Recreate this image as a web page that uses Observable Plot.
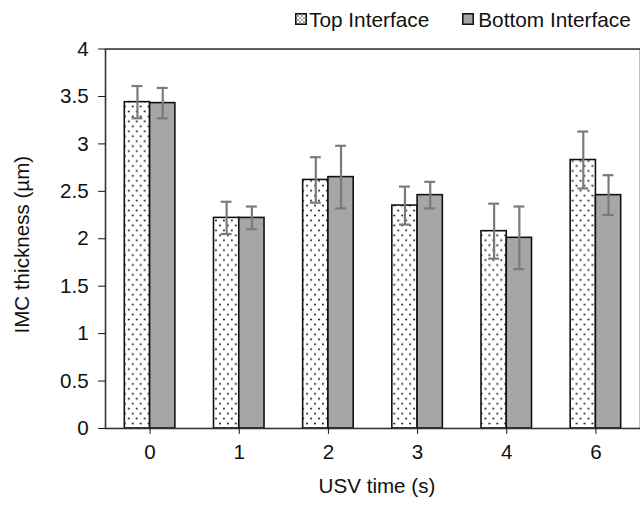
<!DOCTYPE html>
<html>
<head>
<meta charset="utf-8">
<script src="https://cdn.jsdelivr.net/npm/d3@7"></script>
<script src="https://cdn.jsdelivr.net/npm/@observablehq/plot@0.6"></script>
<style>
html, body { margin: 0; padding: 0; background: #fff; overflow: hidden; width: 640px; height: 506px; }
#wrap { position: relative; width: 640px; height: 506px; font-family: "Liberation Sans", Arial, sans-serif; }
#legend { position: absolute; top: 9px; left: 295px; font-size: 20.8px; line-height: 21px; color: #111; display: flex; align-items: flex-start; white-space: nowrap; }
#legend .sw { display: block; margin-top: 4px; margin-right: 2px; }
#legend .gap { width: 33px; }
#chart { position: absolute; top: 0; left: 0; }
</style>
</head>
<body>
<div id="wrap">
  <div id="chart"></div>
  <div id="legend">
    <svg class="sw" width="12" height="12"><defs><pattern id="dotsLegend" patternUnits="userSpaceOnUse" width="4" height="4"><rect width="4" height="4" fill="#fff"/><circle cx="1" cy="1" r="0.7" fill="#000"/><circle cx="3" cy="3" r="0.7" fill="#000"/></pattern></defs><rect x="0.75" y="0.75" width="10.5" height="10.5" fill="url(#dotsLegend)" stroke="#111" stroke-width="1.5"/></svg>
    <span id="lg0"></span>
    <span class="gap"></span>
    <svg class="sw" width="12" height="12" style="margin-right:4px"><rect x="0.75" y="0.75" width="10.5" height="10.5" fill="#a6a6a6" stroke="#111" stroke-width="1.5"/></svg>
    <span id="lg1"></span>
  </div>
</div>
<script>
// ---- data ----
const categories = ["0", "1", "2", "3", "4", "6"];
const seriesNames = ["Top Interface", "Bottom Interface"];
const topValues = [3.44, 2.22, 2.62, 2.35, 2.08, 2.83];
const topErrors = [0.17, 0.17, 0.24, 0.20, 0.29, 0.30];
const bottomValues = [3.43, 2.22, 2.65, 2.46, 2.01, 2.46];
const bottomErrors = [0.16, 0.12, 0.33, 0.14, 0.33, 0.21];
const yTicks = [0, 0.5, 1, 1.5, 2, 2.5, 3, 3.5, 4];
const xLabel = "USV time (s)";
const yLabel = "IMC thickness (µm)";

document.getElementById("lg0").textContent = seriesNames[0];
document.getElementById("lg1").textContent = seriesNames[1];

const topRows = categories.map((c, i) => ({cat: c, series: seriesNames[0], value: topValues[i], err: topErrors[i]}));
const botRows = categories.map((c, i) => ({cat: c, series: seriesNames[1], value: bottomValues[i], err: bottomErrors[i]}));

const errColor = "#7a7a7a";
const font = "'Liberation Sans', Arial, sans-serif";
const chart = Plot.plot({
  width: 646,
  height: 506,
  marginLeft: 106,
  marginRight: 0,
  marginTop: 49,
  marginBottom: 74,
  style: {fontFamily: font, fontSize: "20.8px", color: "#111", background: "#fff"},
  x: {domain: categories, padding: 0},
  y: {domain: [0, 4]},
  marks: [
    Plot.barY(topRows, {x: "cat", y: "value", fill: "url(#dots)", stroke: "#111", strokeWidth: 1.6, insetLeft: 19.5, insetRight: 45}),
    Plot.barY(botRows, {x: "cat", y: "value", fill: "#a6a6a6", stroke: "#111", strokeWidth: 1.6, insetLeft: 45, insetRight: 19.5}),
    Plot.ruleX(topRows, {x: "cat", y1: d => d.value - d.err, y2: d => d.value + d.err, dx: -12.75, stroke: errColor, strokeWidth: 2.2}),
    Plot.tickY(topRows, {x: "cat", y: d => d.value + d.err, insetLeft: 26.75, insetRight: 52.25, stroke: errColor, strokeWidth: 2.2}),
    Plot.tickY(topRows, {x: "cat", y: d => d.value - d.err, insetLeft: 26.75, insetRight: 52.25, stroke: errColor, strokeWidth: 2.2}),
    Plot.ruleX(botRows, {x: "cat", y1: d => d.value - d.err, y2: d => d.value + d.err, dx: 12.75, stroke: errColor, strokeWidth: 2.2}),
    Plot.tickY(botRows, {x: "cat", y: d => d.value + d.err, insetLeft: 52.25, insetRight: 26.75, stroke: errColor, strokeWidth: 2.2}),
    Plot.tickY(botRows, {x: "cat", y: d => d.value - d.err, insetLeft: 52.25, insetRight: 26.75, stroke: errColor, strokeWidth: 2.2}),
    Plot.frame({stroke: "#333", strokeWidth: 1.6}),
    Plot.axisY({ticks: yTicks, tickFormat: d => String(d), tickSize: 7, tickPadding: 10, label: null}),
    Plot.axisX({tickSize: 6, tickPadding: 10, label: null}),
    Plot.text([yLabel], {text: d => d, frameAnchor: "left", rotate: -90, dx: -84, dy: 6, textAnchor: "middle", lineAnchor: "middle", fill: "#111"}),
    Plot.text([xLabel], {text: d => d, frameAnchor: "bottom", dx: 4, dy: 58, textAnchor: "middle", lineAnchor: "middle", fill: "#111"})
  ]
});

const ns = "http://www.w3.org/2000/svg";
const defs = document.createElementNS(ns, "defs");
defs.innerHTML = '<pattern id="dots" patternUnits="userSpaceOnUse" width="8" height="10"><rect width="8" height="10" fill="#fff"/><circle cx="2" cy="2.5" r="0.9" fill="#000"/><circle cx="6" cy="7.5" r="0.9" fill="#000"/></pattern>';
chart.prepend(defs);
document.getElementById("chart").appendChild(chart);
</script>
</body>
</html>
